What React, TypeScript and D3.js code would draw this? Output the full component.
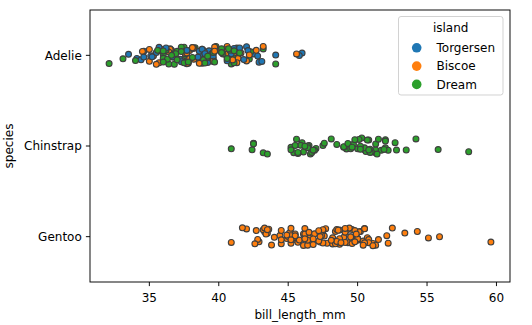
import React, { useEffect, useRef } from "react";
import * as d3 from "d3";

const WIDTH = 532;
const HEIGHT = 325;

const species = ["Adelie", "Chinstrap", "Gentoo"];
const islands = ["Torgersen", "Biscoe", "Dream"];
const islandColors = ["#1f77b4", "#ff7f0e", "#2ca02c"];
const xTicks = [35, 40, 45, 50, 55, 60];

// Adelie rows in dataset order, as runs of island
const adelieRuns: { island: string; bill: number[] }[] = [
  { island: "Torgersen", bill: [39.1, 39.5, 40.3, 36.7, 39.3, 38.9, 39.2, 34.1, 42.0, 37.8, 37.8, 41.1, 38.6, 34.6, 36.6, 38.7, 42.5, 34.4, 46.0] },
  { island: "Biscoe", bill: [37.8, 37.7, 35.9, 38.2, 38.8, 35.3, 40.6, 40.5, 37.9, 40.5] },
  { island: "Dream", bill: [39.5, 37.2, 39.5, 40.9, 36.4, 39.2, 38.8, 42.2, 37.6, 39.8, 36.5, 40.8, 36.0, 44.1, 37.0, 39.6, 41.1, 37.5, 36.0, 42.3] },
  { island: "Biscoe", bill: [39.6, 40.1, 35.0, 42.0, 34.5, 41.4, 39.0, 40.6, 36.5, 37.6, 35.7, 41.3, 37.6, 41.1, 36.4, 41.6, 35.5, 41.1] },
  { island: "Torgersen", bill: [35.9, 41.8, 33.5, 39.7, 39.6, 45.8, 35.5, 42.8, 40.9, 37.2, 36.2, 42.1, 34.6, 42.9, 36.7, 35.1] },
  { island: "Dream", bill: [37.3, 41.3, 36.3, 36.9, 38.3, 38.9, 35.7, 41.1, 34.0, 39.6, 36.2, 40.8, 38.1, 40.3, 33.1, 43.2] },
  { island: "Biscoe", bill: [35.0, 41.0, 37.7, 37.8, 37.9, 39.7, 38.6, 38.2, 38.1, 43.2, 38.1, 45.6, 39.7, 42.2, 39.6, 42.7] },
  { island: "Torgersen", bill: [38.6, 37.3, 35.7, 41.1, 36.2, 37.7, 40.2, 41.4, 35.2, 40.6, 38.8, 41.5, 39.0, 44.1, 38.5, 43.1] },
  { island: "Dream", bill: [36.8, 37.5, 38.1, 41.1, 35.6, 40.2, 37.0, 39.7, 40.2, 40.6, 32.1, 40.7, 37.3, 39.0, 39.2, 36.6, 36.0, 37.8, 36.0, 41.5] },
];

// Chinstrap: all on Dream
const chinstrapBill = [46.5, 50.0, 51.3, 45.4, 52.7, 45.2, 46.1, 51.3, 46.0, 51.3, 46.6, 51.7, 47.0, 52.0, 45.9, 50.5, 50.3, 58.0, 46.4, 49.2, 42.4, 48.5, 43.2, 50.6, 46.7, 52.0, 50.5, 49.5, 46.4, 52.8, 40.9, 54.2, 42.5, 51.0, 49.7, 47.5, 47.6, 52.0, 46.9, 53.5, 49.0, 46.2, 50.9, 45.5, 50.9, 50.8, 50.1, 49.0, 51.5, 49.8, 48.1, 51.4, 45.7, 50.7, 42.5, 52.2, 45.2, 49.3, 50.2, 45.6, 51.9, 46.8, 45.7, 55.8, 43.5, 49.6, 50.8, 50.2];

// Gentoo: all on Biscoe
const gentooBill = [46.1, 50.0, 48.7, 50.0, 47.6, 46.5, 45.4, 46.7, 43.3, 46.8, 40.9, 49.0, 45.5, 48.4, 45.8, 49.3, 42.0, 49.2, 46.2, 48.7, 50.2, 45.1, 46.5, 46.3, 42.9, 46.1, 44.5, 47.8, 48.2, 50.0, 47.3, 42.8, 45.1, 59.6, 49.1, 48.4, 42.6, 44.4, 44.0, 48.7, 42.7, 49.6, 45.3, 49.6, 50.5, 43.6, 45.5, 50.5, 44.9, 45.2, 46.6, 48.5, 45.1, 50.1, 46.5, 45.0, 43.8, 45.5, 43.2, 50.4, 45.3, 46.2, 45.7, 54.3, 45.8, 49.8, 46.2, 49.5, 43.5, 50.7, 47.7, 46.4, 48.2, 46.5, 46.4, 48.6, 47.5, 51.1, 45.2, 45.2, 49.1, 52.5, 47.4, 50.0, 44.9, 50.8, 43.4, 51.3, 47.5, 52.1, 47.5, 52.2, 45.5, 49.5, 44.5, 50.8, 49.4, 46.9, 48.4, 51.1, 48.5, 55.9, 47.2, 49.1, 47.3, 46.8, 41.7, 53.4, 43.3, 48.1, 50.5, 49.8, 43.5, 51.5, 46.2, 55.1, 44.5, 48.8, 47.2, 46.8, 50.4, 45.2, 49.9];

const FONT = "'DejaVu Sans', sans-serif";
const FS = 12;

export default function App() {
  const ref = useRef<SVGSVGElement>(null);

  useEffect(() => {
    const svg = d3.select(ref.current);
    svg.selectAll("*").remove();

    const left = 90, right = 510, top = 10, bottom = 282;
    const allBill = [
      ...adelieRuns.flatMap((r) => r.bill),
      ...chinstrapBill,
      ...gentooBill,
    ];
    const [mn, mx] = d3.extent(allBill) as [number, number];
    const pad = (mx - mn) * 0.05;
    const x = d3.scaleLinear().domain([mn - pad, mx + pad]).range([left, right]);
    const y = d3.scaleLinear().domain([-0.5, 2.5]).range([top, bottom]);
    const color = d3.scaleOrdinal<string, string>().domain(islands).range(islandColors);

    const rows: { sp: number; island: string; bill: number }[] = [];
    adelieRuns.forEach((r) => r.bill.forEach((b) => rows.push({ sp: 0, island: r.island, bill: b })));
    chinstrapBill.forEach((b) => rows.push({ sp: 1, island: "Dream", bill: b }));
    gentooBill.forEach((b) => rows.push({ sp: 2, island: "Biscoe", bill: b }));

    // stripplot jitter (seeded, visual only)
    const jit = d3.randomUniform.source(d3.randomLcg(0.4217))(-0.1, 0.1);
    const jitters = rows.map(() => jit());

    // points
    svg
      .append("g")
      .selectAll("circle")
      .data(rows)
      .join("circle")
      .attr("cx", (d) => x(d.bill))
      .attr("cy", (d, i) => y(d.sp + jitters[i]))
      .attr("r", 2.95)
      .attr("fill", (d) => color(d.island))
      .attr("stroke", "#3f3f3f")
      .attr("stroke-width", 1.1);

    // x axis ticks
    const gx = svg.append("g");
    xTicks.forEach((t) => {
      gx.append("line")
        .attr("x1", x(t)).attr("x2", x(t))
        .attr("y1", bottom).attr("y2", bottom + 4.1)
        .attr("stroke", "#000").attr("stroke-width", 0.95);
      gx.append("text")
        .attr("x", x(t)).attr("y", bottom + 20.3)
        .attr("text-anchor", "middle")
        .attr("font-family", FONT).attr("font-size", FS)
        .attr("fill", "#000")
        .text(String(t));
    });

    // y axis ticks
    const gy = svg.append("g");
    species.forEach((s, i) => {
      gy.append("line")
        .attr("x1", left - 4.1).attr("x2", left)
        .attr("y1", y(i)).attr("y2", y(i))
        .attr("stroke", "#000").attr("stroke-width", 0.95);
      gy.append("text")
        .attr("x", left - 8.2).attr("y", y(i) + 4.3)
        .attr("text-anchor", "end")
        .attr("font-family", FONT).attr("font-size", FS)
        .attr("fill", "#000")
        .text(s);
    });

    // spines
    svg.append("rect")
      .attr("x", left).attr("y", top)
      .attr("width", right - left).attr("height", bottom - top)
      .attr("fill", "none").attr("stroke", "#000").attr("stroke-width", 0.95);

    // axis labels
    svg.append("text")
      .attr("x", (left + right) / 2).attr("y", 318.5)
      .attr("text-anchor", "middle")
      .attr("font-family", FONT).attr("font-size", FS)
      .attr("fill", "#000")
      .text("bill_length_mm");
    svg.append("text")
      .attr("transform", `translate(12.8,${(top + bottom) / 2}) rotate(-90)`)
      .attr("text-anchor", "middle")
      .attr("font-family", FONT).attr("font-size", FS)
      .attr("fill", "#000")
      .text("species");

    // legend
    const lg = svg.append("g");
    lg.append("rect")
      .attr("x", 398.5).attr("y", 16.5)
      .attr("width", 104.5).attr("height", 78.5)
      .attr("rx", 2.5)
      .attr("fill", "#fff").attr("fill-opacity", 0.8)
      .attr("stroke", "#d0d0d0").attr("stroke-width", 0.95);
    lg.append("text")
      .attr("x", 450.7).attr("y", 32)
      .attr("text-anchor", "middle")
      .attr("font-family", FONT).attr("font-size", FS)
      .attr("fill", "#000")
      .text("island");
    islands.forEach((isl, i) => {
      const cy = 47.8 + i * 18.3;
      lg.append("circle")
        .attr("cx", 416.7).attr("cy", cy).attr("r", 4.8)
        .attr("fill", color(isl));
      lg.append("text")
        .attr("x", 436.5).attr("y", cy + 4.3)
        .attr("font-family", FONT).attr("font-size", FS)
        .attr("fill", "#000")
        .text(isl);
    });
  }, []);

  return (
    <svg
      ref={ref}
      width={WIDTH}
      height={HEIGHT}
      style={{ position: "absolute", left: 0, top: 0, background: "#fff" }}
    />
  );
}
